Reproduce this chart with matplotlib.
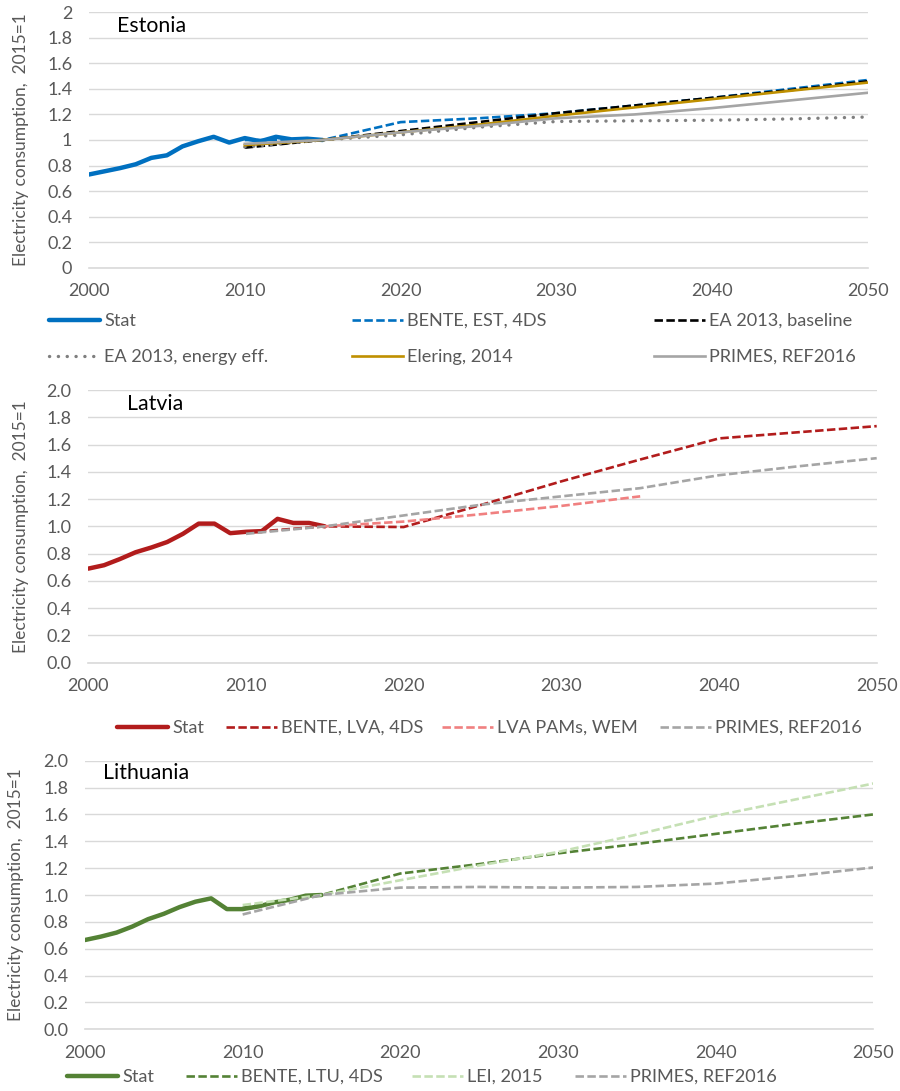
import matplotlib

matplotlib.use("Agg")
import matplotlib.pyplot as plt
import numpy as np
from matplotlib.ticker import FuncFormatter, MultipleLocator

plt.rcParams["font.family"] = ["Lato", "DejaVu Sans"]

# historic statistics, 2000-2015, index 2015=1
stat_years = np.arange(2000, 2016)
proj_years = [2010, 2015, 2020, 2025, 2030, 2035, 2040, 2045, 2050]

est_stat = [0.73, 0.755, 0.78, 0.81, 0.86, 0.88, 0.95, 0.99, 1.025, 0.98,
            1.015, 0.99, 1.025, 1.005, 1.01, 1.0]
est_bente = [1.0, 1.0, 1.14, 1.17, 1.21, 1.27, 1.33, 1.40, 1.47]
est_ea_base = [0.94, 1.0, 1.07, 1.14, 1.21, 1.27, 1.33, 1.39, 1.46]
est_ea_eff = [0.945, 1.0, 1.04, 1.10, 1.145, 1.15, 1.155, 1.165, 1.18]
est_elering = [0.96, 1.0, 1.06, 1.12, 1.19, 1.255, 1.32, 1.385, 1.45]
est_primes = [0.97, 1.0, 1.06, 1.11, 1.17, 1.20, 1.25, 1.31, 1.37]

lva_stat = [0.69, 0.715, 0.76, 0.81, 0.845, 0.885, 0.945, 1.02, 1.02, 0.95,
            0.96, 0.965, 1.055, 1.025, 1.025, 1.0]
lva_bente = [0.955, 1.0, 0.995, 1.16, 1.33, 1.49, 1.645, 1.69, 1.735]
pams_years = [2015, 2020, 2025, 2030, 2035]
lva_pams = [1.0, 1.035, 1.09, 1.15, 1.22]
lva_primes = [0.945, 1.0, 1.08, 1.16, 1.22, 1.28, 1.375, 1.44, 1.50]

ltu_stat = [0.665, 0.69, 0.72, 0.765, 0.82, 0.86, 0.91, 0.95, 0.975, 0.895,
            0.895, 0.915, 0.945, 0.965, 0.995, 1.0]
ltu_bente = [0.905, 1.0, 1.16, 1.23, 1.31, 1.38, 1.455, 1.53, 1.60]
ltu_lei = [0.925, 1.0, 1.11, 1.22, 1.32, 1.45, 1.59, 1.71, 1.83]
ltu_primes = [0.855, 1.0, 1.055, 1.06, 1.055, 1.06, 1.085, 1.14, 1.205]

W, H = 900, 1091
TXT = "#595959"
GRID = "#d9d9d9"
GREY = "#a5a5a5"
DASH = (0, (3.2, 1.3))
DOTS = (0, (0.05, 2.6))
FS_TICK = 13
FS_LEG = 13.1


def px_rect(left, right, top, bottom):
    return [left / W, 1 - bottom / H, (right - left) / W, (bottom - top) / H]


def style_axes(ax, name, name_xy, one_decimal, label_x):
    ax.set_xlim(2000, 2050)
    ax.set_ylim(0, 2)
    ax.xaxis.set_major_locator(MultipleLocator(10))
    ax.yaxis.set_major_locator(MultipleLocator(0.2))
    fmt = (lambda v, _: f"{v:.1f}") if one_decimal else (lambda v, _: f"{v:g}")
    ax.yaxis.set_major_formatter(FuncFormatter(fmt))
    ax.grid(axis="y", color=GRID, lw=1.0)
    ax.set_axisbelow(True)
    for side in ("top", "right", "left"):
        ax.spines[side].set_visible(False)
    ax.spines["bottom"].set_color(GRID)
    ax.spines["bottom"].set_linewidth(1.2)
    ax.tick_params(axis="x", length=0, pad=11, labelsize=FS_TICK, labelcolor=TXT)
    ax.tick_params(axis="y", length=0, pad=12, labelsize=FS_TICK, labelcolor=TXT)
    ax.set_ylabel("Electricity consumption,  2015=1", fontsize=12.5, color=TXT)
    ax.yaxis.set_label_coords(label_x, 0.5)
    ax.text(*name_xy, name, transform=ax.transAxes, fontsize=15.3,
            color="black", va="center", ha="left")


def add_legend(fig, handles, slots):
    # one legend per entry so every item sits at its own slot
    for h, (x, y) in zip(handles, slots):
        fig.legend(handles=[h], loc="center left",
                   bbox_to_anchor=(x / W, 1 - y / H), frameon=False,
                   borderpad=0, borderaxespad=0, handlelength=2.8,
                   handletextpad=0.25, fontsize=FS_LEG, labelcolor=TXT)


fig = plt.figure(figsize=(W / 100, H / 100), dpi=100)

# Estonia
ax1 = fig.add_axes(px_rect(89, 868, 12.3, 267.7))
l = []
l += ax1.plot(stat_years, est_stat, color="#0070c0", lw=3.2,
              solid_capstyle="round", label="Stat")
l += ax1.plot(proj_years, est_bente, color="#0070c0", lw=1.9, ls=DASH,
              label="BENTE, EST, 4DS")
l += ax1.plot(proj_years, est_ea_base, color="black", lw=1.9, ls=DASH,
              label="EA 2013, baseline")
l += ax1.plot(proj_years, est_ea_eff, color="#7f7f7f", lw=2.4, ls=DOTS,
              dash_capstyle="round", label="EA 2013, energy eff.")
l += ax1.plot(proj_years, est_elering, color="#bf9000", lw=1.9,
              label="Elering, 2014")
l += ax1.plot(proj_years, est_primes, color=GREY, lw=1.9,
              label="PRIMES, REF2016")
style_axes(ax1, "Estonia", (0.036, 0.946), False, -0.077)
add_legend(fig, l, [(49, 321), (352, 321), (654, 321),
                    (49, 357), (352, 357), (654, 357)])

# Latvia
ax2 = fig.add_axes(px_rect(88.3, 876.7, 390, 662.7))
l = []
l += ax2.plot(stat_years, lva_stat, color="#b21c1c", lw=3.2,
              solid_capstyle="round", label="Stat")
l += ax2.plot(proj_years, lva_bente, color="#b21c1c", lw=1.9, ls=DASH,
              label="BENTE, LVA, 4DS")
l += ax2.plot(pams_years, lva_pams, color="#f08080", lw=1.9, ls=DASH,
              label="LVA PAMs, WEM")
l += ax2.plot(proj_years, lva_primes, color=GREY, lw=1.9, ls=DASH,
              label="PRIMES, REF2016")
style_axes(ax2, "Latvia", (0.049, 0.949), True, -0.075)
add_legend(fig, l, [(117, 728), (226, 728), (442, 728), (660, 728)])

# Lithuania
ax3 = fig.add_axes(px_rect(85, 873.3, 760.7, 1029.3))
l = []
l += ax3.plot(stat_years, ltu_stat, color="#548235", lw=3.2,
              solid_capstyle="round", label="Stat")
l += ax3.plot(proj_years, ltu_bente, color="#548235", lw=1.9, ls=DASH,
              label="BENTE, LTU, 4DS")
l += ax3.plot(proj_years, ltu_lei, color="#c5e0b4", lw=1.9, ls=DASH,
              label="LEI, 2015")
l += ax3.plot(proj_years, ltu_primes, color=GREY, lw=1.9, ls=DASH,
              label="PRIMES, REF2016")
style_axes(ax3, "Lithuania", (0.0224, 0.953), True, -0.077)
add_legend(fig, l, [(67, 1077), (186, 1077), (412, 1077), (575, 1077)])

fig.savefig("out.png", dpi=100)
